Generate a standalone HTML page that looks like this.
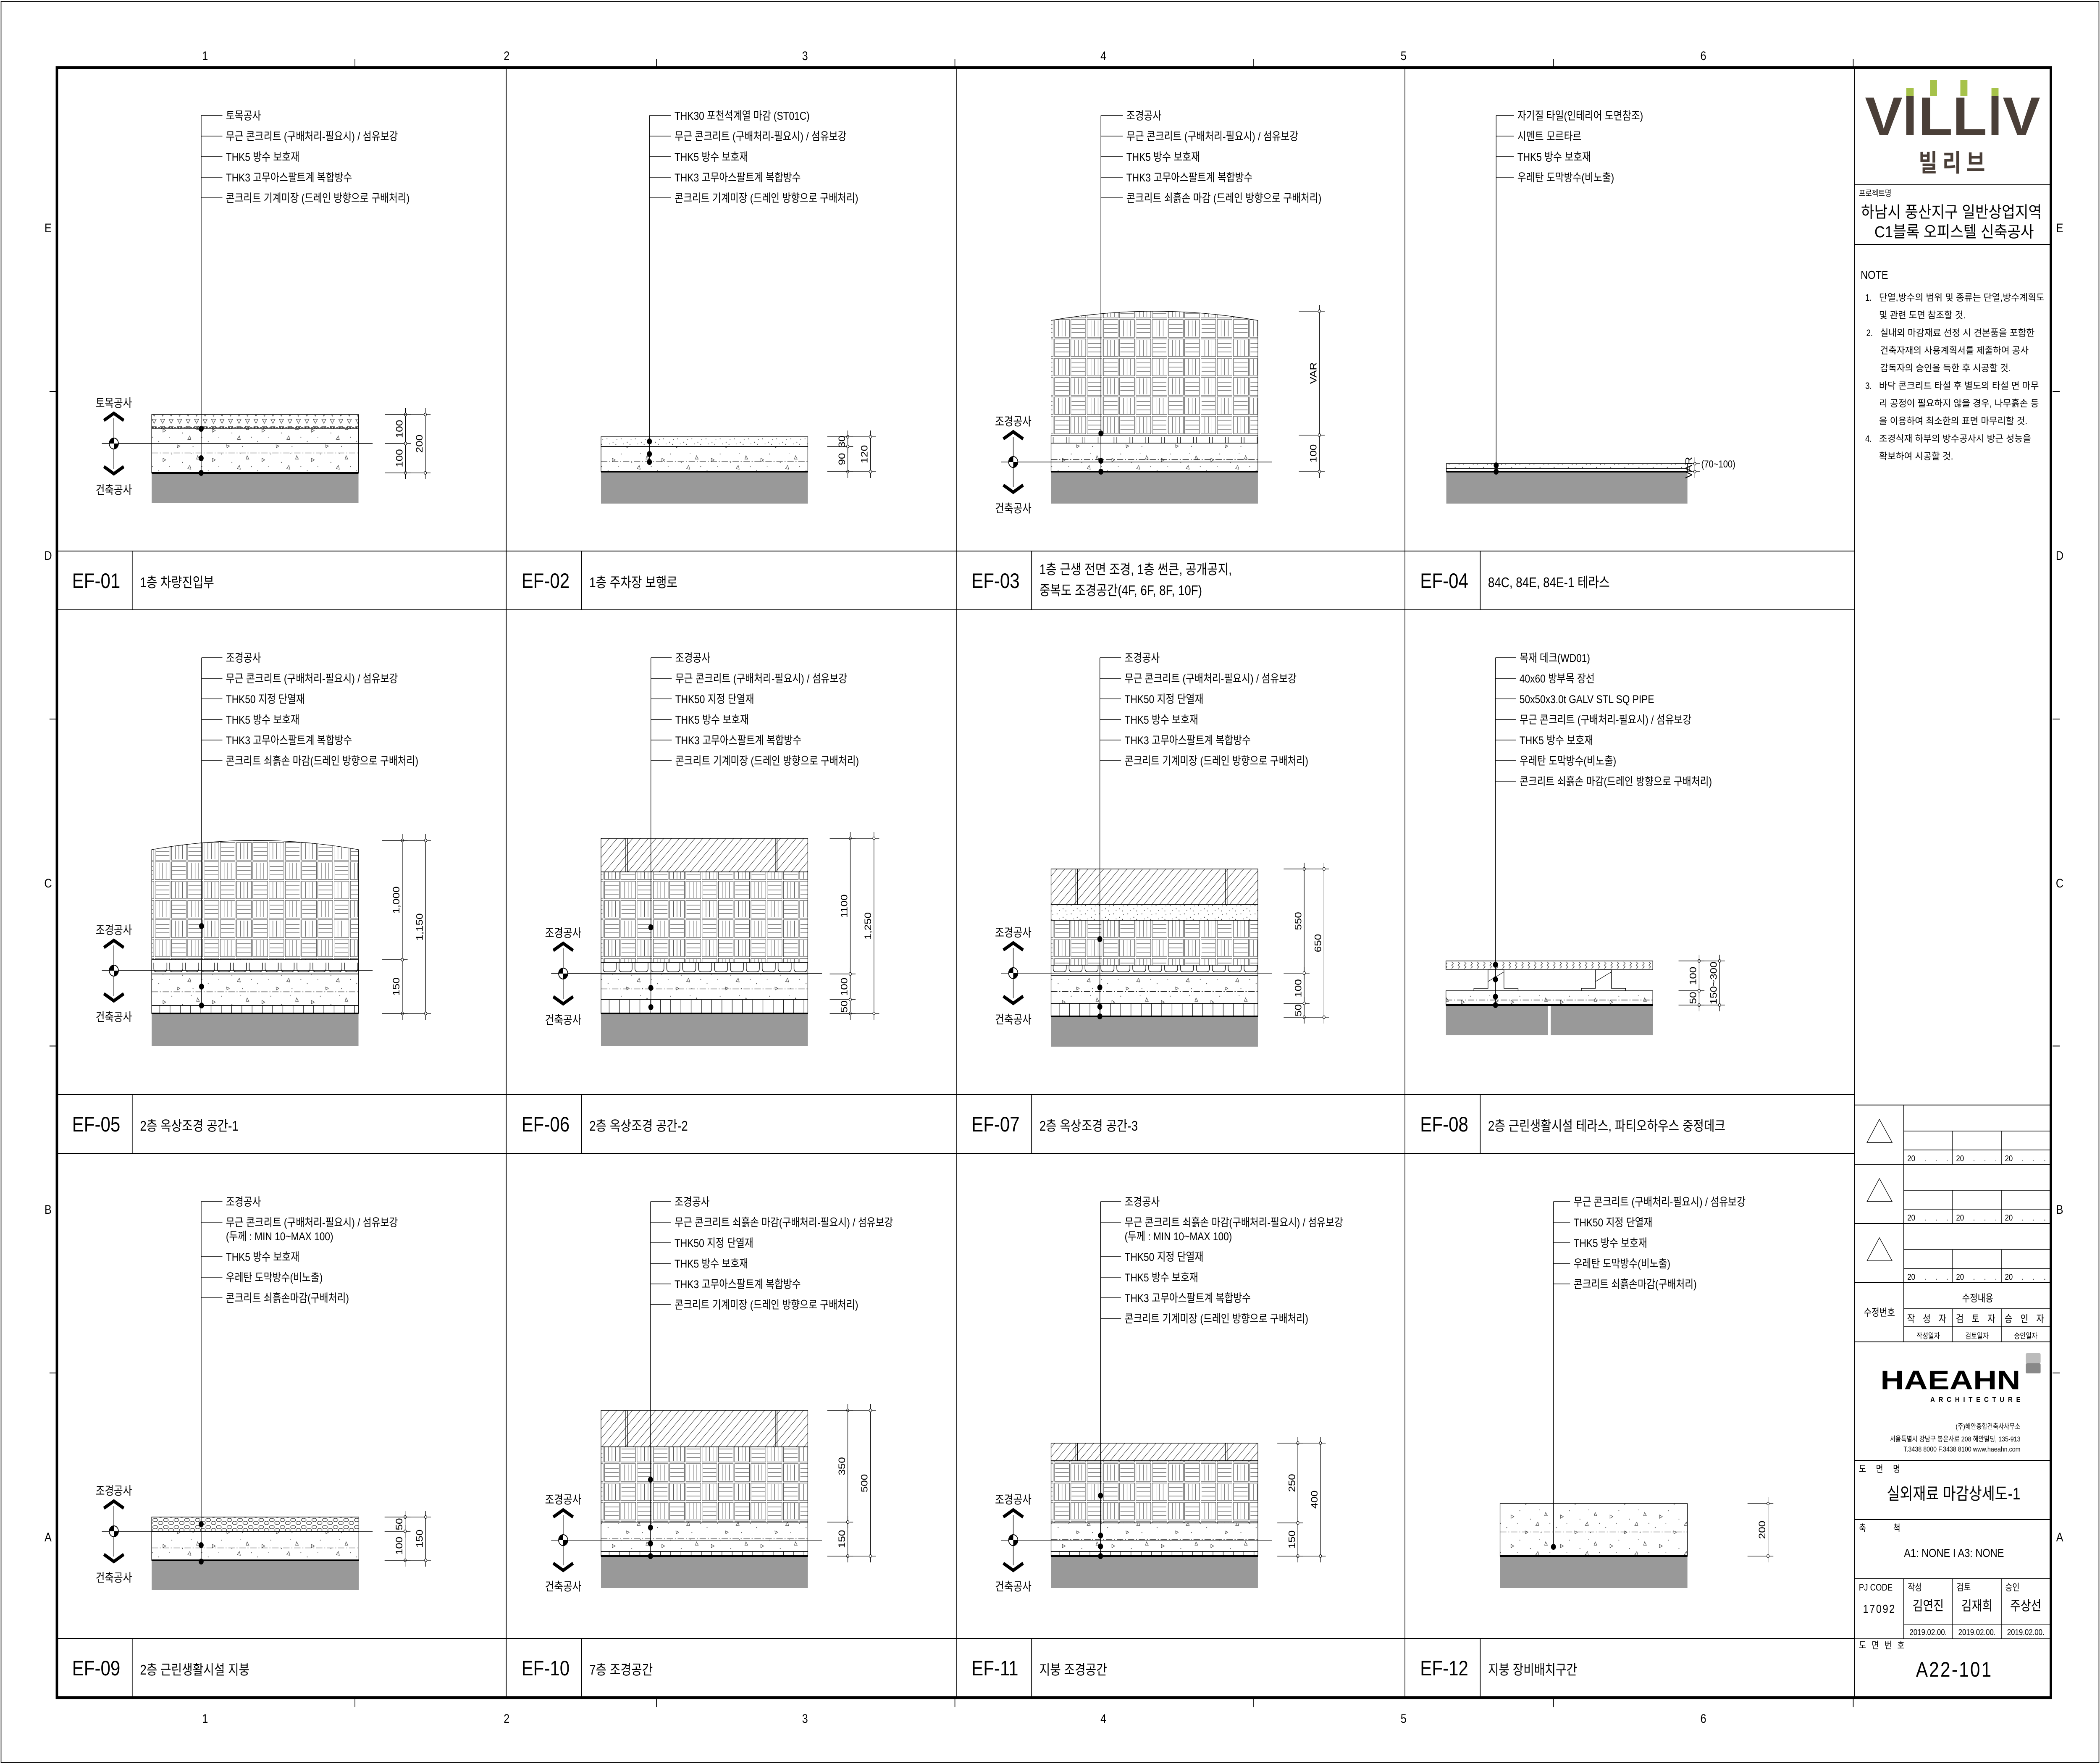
<!DOCTYPE html>
<html><head><meta charset="utf-8">
<style>
html,body{margin:0;padding:0;background:#fff;overflow:hidden;}
html,body{width:100vw;height:100vh;}
svg{display:block;width:100vw;height:100vh;}
text{font-family:"Liberation Sans","Noto Sans CJK KR",sans-serif;fill:#000;}
</style></head>
<body>
<svg id="sheet" xmlns="http://www.w3.org/2000/svg" viewBox="0 0 5940 4200" preserveAspectRatio="none">
<defs>
<pattern id="tile" patternUnits="userSpaceOnUse" width="92" height="92">
 <g stroke="#222" stroke-width="1" fill="none">
  <rect x="2" y="2" width="42" height="42"/><rect x="48" y="2" width="42" height="42"/>
  <rect x="2" y="48" width="42" height="42"/><rect x="48" y="48" width="42" height="42"/>
  <path d="M4 13H42M4 23H42M4 33H42"/><path d="M59 4V42M69 4V42M79 4V42"/>
  <path d="M13 50V88M23 50V88M33 50V88"/><path d="M50 59H88M50 69H88M50 79H88"/>
 </g>
</pattern>
<pattern id="hatch" patternUnits="userSpaceOnUse" width="22" height="22">
 <path d="M-2 24L24 -2M-2 2L2 -2M20 24L24 20" stroke="#333" stroke-width="1.1"/>
</pattern>
<pattern id="conc" patternUnits="userSpaceOnUse" width="140" height="70">
 <g fill="none" stroke="#444" stroke-width="1.2">
  <path d="M20 20l8 4l-8 4z"/><path d="M90 45l6 -8l3 9z"/><path d="M60 58l8 3l-7 4z"/><path d="M118 14l5 8l-8 0z"/>
 </g>
 <g fill="#555"><circle cx="8" cy="50" r="1.2"/><circle cx="45" cy="10" r="1.2"/><circle cx="75" cy="30" r="1.2"/><circle cx="105" cy="62" r="1.2"/><circle cx="130" cy="40" r="1.2"/><circle cx="38" cy="40" r="1"/><circle cx="100" cy="8" r="1"/></g>
</pattern>
<pattern id="sand" patternUnits="userSpaceOnUse" width="40" height="20">
 <g fill="#444"><circle cx="5" cy="4" r="1.2"/><circle cx="22" cy="12" r="1.2"/><circle cx="33" cy="5" r="1"/><circle cx="12" cy="16" r="1"/><circle cx="30" cy="17" r="1.2"/></g>
</pattern>
<pattern id="tri" patternUnits="userSpaceOnUse" width="24" height="17">
 <path d="M5 4h12l-6 10z" fill="none" stroke="#333" stroke-width="1.2"/>
</pattern>
<pattern id="gravel" patternUnits="userSpaceOnUse" width="30" height="17">
 <g fill="none" stroke="#333" stroke-width="1.3"><ellipse cx="8" cy="5" rx="7" ry="4"/><ellipse cx="23" cy="12" rx="7" ry="4"/><ellipse cx="-7" cy="12" rx="7" ry="4"/></g>
</pattern>
<pattern id="drain" patternUnits="userSpaceOnUse" width="45" height="40">
 <path d="M4 0V14Q4 22 12 22H33Q41 22 41 14V0" fill="none" stroke="#000" stroke-width="1.5"/>
</pattern>
<pattern id="grid" patternUnits="userSpaceOnUse" width="29" height="40">
 <path d="M1 0V40" stroke="#000" stroke-width="1.3"/>
</pattern>
<pattern id="deck" patternUnits="userSpaceOnUse" width="18" height="22">
 <path d="M6 2l5 4l-5 4l5 4l-5 4" fill="none" stroke="#333" stroke-width="1.2"/>
</pattern>
</defs>
<rect x="0" y="0" width="5940" height="4200" fill="#fff"/>
<rect x="3" y="3" width="5934" height="4194" fill="none" stroke="#000" stroke-width="2"/>
<g id="grid-frame"></g>
<g id="panels"></g>

<g id="title-block" stroke="#000" fill="none">
 <line x1="5246" y1="440" x2="5803" y2="440" stroke-width="2"/>
 <line x1="5246" y1="582" x2="5803" y2="582" stroke-width="2"/>
 <line x1="5246" y1="2631" x2="5803" y2="2631" stroke-width="2"/>
 <line x1="5246" y1="2772" x2="5803" y2="2772" stroke-width="2"/>
 <line x1="5246" y1="2913" x2="5803" y2="2913" stroke-width="2"/>
 <line x1="5246" y1="3054" x2="5803" y2="3054" stroke-width="2"/>
 <line x1="5246" y1="3195" x2="5803" y2="3195" stroke-width="2"/>
 <line x1="5246" y1="3477" x2="5803" y2="3477" stroke-width="2"/>
 <line x1="5246" y1="3618" x2="5803" y2="3618" stroke-width="2"/>
 <line x1="5246" y1="3759" x2="5803" y2="3759" stroke-width="2"/>
 <line x1="5246" y1="3902" x2="5803" y2="3902" stroke-width="2"/>
 <line x1="5385" y1="2631" x2="5385" y2="3195" stroke-width="2"/>
 <line x1="5385" y1="3759" x2="5385" y2="3902" stroke-width="2"/>
 <g stroke-width="1.5">
  <line x1="5385" y1="2693" x2="5803" y2="2693"/><line x1="5385" y1="2738" x2="5803" y2="2738"/>
  <line x1="5385" y1="2834" x2="5803" y2="2834"/><line x1="5385" y1="2879" x2="5803" y2="2879"/>
  <line x1="5385" y1="2975" x2="5803" y2="2975"/><line x1="5385" y1="3020" x2="5803" y2="3020"/>
  <line x1="5523" y1="2693" x2="5523" y2="2772"/><line x1="5661" y1="2693" x2="5661" y2="2772"/>
  <line x1="5523" y1="2834" x2="5523" y2="2913"/><line x1="5661" y1="2834" x2="5661" y2="2913"/>
  <line x1="5523" y1="2975" x2="5523" y2="3054"/><line x1="5661" y1="2975" x2="5661" y2="3054"/>
  <line x1="5385" y1="3116" x2="5803" y2="3116"/><line x1="5385" y1="3158" x2="5803" y2="3158"/>
  <line x1="5523" y1="3116" x2="5523" y2="3195"/><line x1="5661" y1="3116" x2="5661" y2="3195"/>
  <line x1="5385" y1="3867" x2="5803" y2="3867"/>
  <line x1="5523" y1="3759" x2="5523" y2="3902"/><line x1="5661" y1="3759" x2="5661" y2="3902"/>
  <path d="M5316 2665L5352 2720H5281Z"/>
  <path d="M5316 2806L5352 2861H5281Z"/>
  <path d="M5316 2947L5352 3002H5281Z"/>
 </g>
</g>
<g id="title-texts">
 <rect x="5392" y="229" width="21" height="93" fill="#4a3f38"/><rect x="5392" y="210" width="21" height="19" fill="#a6c24a"/>
 <rect x="5459" y="191" width="20" height="38" fill="#a6c24a"/><rect x="5545" y="191" width="20" height="38" fill="#a6c24a"/>
 <rect x="5633" y="229" width="20" height="93" fill="#4a3f38"/><rect x="5633" y="210" width="20" height="19" fill="#a6c24a"/>
 <text x="5275" y="322" font-size="130" font-weight="bold" style="fill:#4a3f38" textLength="496" lengthAdjust="spacingAndGlyphs">V<tspan style="fill:none">I</tspan>LL<tspan style="fill:none">I</tspan>V</text>
 <text x="5528" y="408" font-size="58" font-weight="bold" text-anchor="middle" style="fill:#4a3f38" letter-spacing="14">빌리브</text>
 <text x="5258" y="467" font-size="20">프로젝트명</text>
 <text x="5264" y="518" font-size="38" textLength="511" lengthAdjust="spacingAndGlyphs">하남시 풍산지구 일반상업지역</text>
 <text x="5302" y="565" font-size="38" textLength="451" lengthAdjust="spacingAndGlyphs">C1블록 오피스텔 신축공사</text>
 <text x="5263" y="664" font-size="28">NOTE</text>
 <g font-size="22">
  <text x="5276" y="716">1.</text><text x="5315" y="716" textLength="468" lengthAdjust="spacingAndGlyphs">단열,방수의 범위 및 종류는 단열,방수계획도</text>
  <text x="5315" y="758" textLength="245" lengthAdjust="spacingAndGlyphs">및 관련 도면 참조할 것.</text>
  <text x="5279" y="800">2.</text><text x="5318" y="800" textLength="437" lengthAdjust="spacingAndGlyphs">실내외 마감재료 선정 시 견본품을 포함한</text>
  <text x="5318" y="842" textLength="420" lengthAdjust="spacingAndGlyphs">건축자재의 사용계획서를 제출하여 공사</text>
  <text x="5318" y="884" textLength="370" lengthAdjust="spacingAndGlyphs">감독자의 승인을 득한 후 시공할 것.</text>
  <text x="5276" y="926">3.</text><text x="5315" y="926" textLength="452" lengthAdjust="spacingAndGlyphs">바닥 콘크리트 타설 후 별도의 타설 면 마무</text>
  <text x="5315" y="968" textLength="452" lengthAdjust="spacingAndGlyphs">리 공정이 필요하지 않을 경우, 나무흙손 등</text>
  <text x="5315" y="1010" textLength="420" lengthAdjust="spacingAndGlyphs">을 이용하여 최소한의 표면 마무리할 것.</text>
  <text x="5276" y="1052">4.</text><text x="5315" y="1052" textLength="430" lengthAdjust="spacingAndGlyphs">조경식재 하부의 방수공사시 방근 성능을</text>
  <text x="5315" y="1094" textLength="210" lengthAdjust="spacingAndGlyphs">확보하여 시공할 것.</text>
 </g>
 <g font-size="20">
  <text x="5395" y="2765">20　 .　 .　 .</text><text x="5533" y="2765">20　 .　 .　 .</text><text x="5671" y="2765">20　 .　 .　 .</text>
  <text x="5395" y="2906">20　 .　 .　 .</text><text x="5533" y="2906">20　 .　 .　 .</text><text x="5671" y="2906">20　 .　 .　 .</text>
  <text x="5395" y="3047">20　 .　 .　 .</text><text x="5533" y="3047">20　 .　 .　 .</text><text x="5671" y="3047">20　 .　 .　 .</text>
 </g>
 <text x="5594" y="3099" font-size="24" text-anchor="middle">수정내용</text>
 <text x="5316" y="3133" font-size="24" text-anchor="middle">수정번호</text>
 <text x="5454" y="3148" font-size="24" text-anchor="middle" letter-spacing="8">작 성 자</text>
 <text x="5592" y="3148" font-size="24" text-anchor="middle" letter-spacing="8">검 토 자</text>
 <text x="5730" y="3148" font-size="24" text-anchor="middle" letter-spacing="8">승 인 자</text>
 <text x="5454" y="3187" font-size="18" text-anchor="middle">작성일자</text>
 <text x="5592" y="3187" font-size="18" text-anchor="middle">검토일자</text>
 <text x="5730" y="3187" font-size="18" text-anchor="middle">승인일자</text>
 <text x="5319" y="3308" font-size="64" font-weight="bold" textLength="396" lengthAdjust="spacingAndGlyphs">HAEAHN</text>
 <text x="5460" y="3338" font-size="18" font-weight="bold" textLength="255" lengthAdjust="spacing">ARCHITECTURE</text>
 <rect x="5730" y="3222" width="42" height="24" fill="#bbb" rx="3"/><rect x="5730" y="3246" width="42" height="24" fill="#888" rx="3"/>
 <text x="5715" y="3402" font-size="17" text-anchor="end">(주)해안종합건축사사무소</text>
 <text x="5715" y="3432" font-size="17" text-anchor="end">서울특별시 강남구 봉은사로 208 해안빌딩, 135-913</text>
 <text x="5715" y="3456" font-size="17" text-anchor="end">T.3438 8000  F.3438 8100 www.haeahn.com</text>
 <text x="5258" y="3505" font-size="22" letter-spacing="28">도면명</text>
 <text x="5526" y="3570" font-size="40" text-anchor="middle">실외재료 마감상세도-1</text>
 <text x="5258" y="3646" font-size="22">축</text>
 <text x="5355" y="3646" font-size="22">척</text>
 <text x="5527" y="3707" font-size="28" text-anchor="middle">A1: NONE  I  A3: NONE</text>
 <text x="5258" y="3787" font-size="22">PJ CODE</text>
 <text x="5316" y="3840" font-size="28" text-anchor="middle" letter-spacing="3">17092</text>
 <text x="5396" y="3787" font-size="22">작성</text>
 <text x="5534" y="3787" font-size="22">검토</text>
 <text x="5672" y="3787" font-size="22">승인</text>
 <text x="5454" y="3834" font-size="32" text-anchor="middle">김연진</text>
 <text x="5592" y="3834" font-size="32" text-anchor="middle">김재희</text>
 <text x="5730" y="3834" font-size="32" text-anchor="middle">주상선</text>
 <text x="5454" y="3893" font-size="20" text-anchor="middle">2019.02.00.</text>
 <text x="5592" y="3893" font-size="20" text-anchor="middle">2019.02.00.</text>
 <text x="5730" y="3893" font-size="20" text-anchor="middle">2019.02.00.</text>
 <text x="5258" y="3925" font-size="22" letter-spacing="16">도면번호</text>
 <text x="5528" y="3992" font-size="50" text-anchor="middle" letter-spacing="4">A22-101</text>
</g>
</svg>
<script>
const panelCodes = ['EF-01','EF-02','EF-03','EF-04','EF-05','EF-06','EF-07','EF-08','EF-09','EF-10','EF-11','EF-12'];
const panelTitles = [
 ['1층 차량진입부'],['1층 주차장 보행로'],['1층 근생 전면 조경, 1층 썬큰, 공개공지,','중복도 조경공간(4F, 6F, 8F, 10F)'],['84C, 84E, 84E-1 테라스'],
 ['2층 옥상조경 공간-1'],['2층 옥상조경 공간-2'],['2층 옥상조경 공간-3'],['2층 근린생활시설 테라스, 파티오하우스 중정데크'],
 ['2층 근린생활시설 지붕'],['7층 조경공간'],['지붕 조경공간'],['지붕 장비배치구간']];
const panelLabels = [
 ['토목공사','무근 콘크리트 (구배처리-필요시) / 섬유보강','THK5 방수 보호재','THK3 고무아스팔트계 복합방수','콘크리트 기계미장 (드레인 방향으로 구배처리)'],
 ['THK30 포천석계열 마감 (ST01C)','무근 콘크리트 (구배처리-필요시) / 섬유보강','THK5 방수 보호재','THK3 고무아스팔트계 복합방수','콘크리트 기계미장 (드레인 방향으로 구배처리)'],
 ['조경공사','무근 콘크리트 (구배처리-필요시) / 섬유보강','THK5 방수 보호재','THK3 고무아스팔트계 복합방수','콘크리트 쇠흙손 마감 (드레인 방향으로 구배처리)'],
 ['자기질 타일(인테리어 도면참조)','시멘트 모르타르','THK5 방수 보호재','우레탄 도막방수(비노출)'],
 ['조경공사','무근 콘크리트 (구배처리-필요시) / 섬유보강','THK50 지정 단열재','THK5 방수 보호재','THK3 고무아스팔트계 복합방수','콘크리트 쇠흙손 마감(드레인 방향으로 구배처리)'],
 ['조경공사','무근 콘크리트 (구배처리-필요시) / 섬유보강','THK50 지정 단열재','THK5 방수 보호재','THK3 고무아스팔트계 복합방수','콘크리트 기계미장 (드레인 방향으로 구배처리)'],
 ['조경공사','무근 콘크리트 (구배처리-필요시) / 섬유보강','THK50 지정 단열재','THK5 방수 보호재','THK3 고무아스팔트계 복합방수','콘크리트 기계미장 (드레인 방향으로 구배처리)'],
 ['목재 데크(WD01)','40x60 방부목 장선','50x50x3.0t GALV STL SQ PIPE','무근 콘크리트 (구배처리-필요시) / 섬유보강','THK5 방수 보호재','우레탄 도막방수(비노출)','콘크리트 쇠흙손 마감(드레인 방향으로 구배처리)'],
 ['조경공사','무근 콘크리트 (구배처리-필요시) / 섬유보강|(두께 : MIN 10~MAX 100)','THK5 방수 보호재','우레탄 도막방수(비노출)','콘크리트 쇠흙손마감(구배처리)'],
 ['조경공사','무근 콘크리트 쇠흙손 마감(구배처리-필요시) / 섬유보강','THK50 지정 단열재','THK5 방수 보호재','THK3 고무아스팔트계 복합방수','콘크리트 기계미장 (드레인 방향으로 구배처리)'],
 ['조경공사','무근 콘크리트 쇠흙손 마감(구배처리-필요시) / 섬유보강|(두께 : MIN 10~MAX 100)','THK50 지정 단열재','THK5 방수 보호재','THK3 고무아스팔트계 복합방수','콘크리트 기계미장 (드레인 방향으로 구배처리)'],
 ['무근 콘크리트 (구배처리-필요시) / 섬유보강','THK50 지정 단열재','THK5 방수 보호재','우레탄 도막방수(비노출)','콘크리트 쇠흙손마감(구배처리)']];
const panelLayers = [
 [[826,860,'tri'],[860,965,'conc'],[965,1036,'slab']],
 [[879,902,'stone'],[902,962,'conc'],[962,1038,'slab']],
 [[580,875,'tileCurve'],[875,894,'drain'],[894,962,'conc'],[962,1038,'slab']],
 [[943,955,'stone'],[955,962,'thin'],[962,1038,'slab']],
 [[549,833,'tileCurve'],[833,867,'drain'],[867,942,'conc'],[942,961,'grid'],[961,1038,'slab']],
 [[544,624,'hatch'],[624,840,'tile'],[840,867,'drain'],[867,928,'conc'],[928,961,'grid'],[961,1038,'slab']],
 [[617,702,'hatch'],[702,739,'sand'],[739,846,'tile'],[846,870,'drain'],[870,937,'conc'],[937,968,'grid'],[968,1040,'slab']],
 [[836,857,'deck'],[857,907,'posts'],[907,941,'conc'],[941,1013,'slabSplit']],
 [[865,899,'gravel'],[899,968,'conc'],[968,1039,'slab']],
 [[611,698,'hatch'],[698,877,'tile'],[877,947,'conc'],[947,958,'grid'],[958,1034,'slab']],
 [[689,731,'hatch'],[731,879,'tile'],[879,947,'conc'],[947,958,'grid'],[958,1034,'slab']],
 [[833,958,'conc'],[958,1034,'slab']]];
const panelSpan = [[268,853],[268,853],[268,853],[117,799],[268,853],[268,853],[268,853],[116,701],[268,854],[268,853],[268,853],[269,799]];
const panelLeaderX = [408,405,409,258,409,409,406,256,408,408,408,420];
const panelTextX = [478,476,481,318,478,478,476,324,478,476,476,477];
const panelDots = [[860,930,965],[890,920,939],[871,936,962],[947,962],[753,897,942],[756,900,946],[784,899,945,968],[845,880,921,941],[882,932,971],[776,890,928,958],[814,909,935,958],[936]];
const panelRef = [895,null,939,null,859,866,865,null,899,920,920,null];
const panelUpLabel = ['토목공사',null,'조경공사',null,'조경공사','조경공사','조경공사',null,'조경공사','조경공사','조경공사',null];
const panelDims = [
 [[986,826,895,'100'],[986,895,965,'100'],[1042,826,965,'200']],
 [[966,879,902,'30'],[966,902,962,'90'],[1030,879,962,'120']],
 [[1027,580,875,'VAR'],[1027,875,962,'100']],
 [[820,943,962,'VAR']],
 [[977,549,833,'1,000'],[977,833,961,'150'],[1043,549,961,'1,150']],
 [[973,544,867,'1100'],[973,867,928,'100'],[973,928,961,'50'],[1040,544,961,'1,250']],
 [[984,617,865,'550'],[984,865,937,'100'],[984,937,970,'50'],[1040,617,970,'650']],
 [[832,836,907,'100'],[832,907,941,'50'],[890,836,941,'150~300']],
 [[985,865,899,'50'],[985,899,968,'100'],[1043,865,968,'150']],
 [[966,611,877,'350'],[966,877,958,'150'],[1030,611,958,'500']],
 [[966,689,879,'250'],[966,879,958,'150'],[1030,689,958,'400']],
 [[1027,833,958,'200']]];
const colX = [161,1432,2705,3974,5246];
const rowY = [161,1452,2747];
const bandY = [1312,2606,3901];
const colNums = ['1','2','3','4','5','6'];
const colNumX = [580,1433,2277,3121,3970,4818];
const rowLetters = ['E','D','C','B','A'];
const rowLetterY = [542,1322,2102,2879,3659];

const NS='http://www.w3.org/2000/svg';
function mk(tag, attrs, parent){const e=document.createElementNS(NS,tag);for(const k in attrs)e.setAttribute(k,attrs[k]);parent.appendChild(e);return e;}

const frame=document.getElementById('grid-frame');
const border=mk('rect',{x:161,y:161,width:5640,height:3881,fill:'none',stroke:'#000','stroke-width':7},frame);


for(let c=1;c<4;c++){const l=mk('line',{x1:colX[c],y1:161,x2:colX[c],y2:4042,stroke:'#000','stroke-width':2},frame);
 
 }
const tbl=mk('line',{x1:5246,y1:161,x2:5246,y2:4042,stroke:'#000','stroke-width':2},frame);


for(let r=0;r<3;r++){
 const a=mk('line',{x1:161,y1:bandY[r],x2:5246,y2:bandY[r],stroke:'#000','stroke-width':2},frame);
 
 
 if(r<2){const b=mk('line',{x1:161,y1:bandY[r]+140,x2:5246,y2:bandY[r]+140,stroke:'#000','stroke-width':2},frame);
  
  }
}
colNums.forEach((n,i)=>{
 [133,4092].forEach(y=>{const t=mk('text',{x:colNumX[i],y:y+10,'font-size':30,'text-anchor':'middle'},frame);t.textContent=n;
  
  });
 [[140,158],[4045,4065]].forEach(p=>{const k=mk('line',{x1:colNumX[i]+424,y1:p[0],x2:colNumX[i]+424,y2:p[1],stroke:'#000','stroke-width':2},frame);
  
  });
});
rowLetters.forEach((n,i)=>{
 [136,5826].forEach(x=>{const t=mk('text',{x:x,y:rowLetterY[i]+11,'font-size':30,'text-anchor':'middle'},frame);t.textContent=n;
  
  });
 if(i<4){const yy=(rowLetterY[i]+rowLetterY[i+1])/2;
  [[140,158],[5806,5826]].forEach(p=>{const k=mk('line',{x1:p[0],y1:yy,x2:p[1],y2:yy,stroke:'#000','stroke-width':2},frame);
   
   });}
});

const panels=document.getElementById('panels');
const FS=27;
panelCodes.forEach((code,i)=>{
 const c=i%4, r=Math.floor(i/4);
 const ox=colX[c], oy=rowY[r], by=bandY[r];
 const g=mk('g',{transform:`translate(${ox},${oy})`},panels);
 
 
 const bg=mk('g',{transform:`translate(${ox},${by})`},panels);
 
 
 mk('line',{x1:213,y1:0,x2:213,y2:140,stroke:'#000','stroke-width':2},bg);
 const ct=mk('text',{x:43,y:88,'font-size':50},bg);ct.textContent=code;
 
 
 const tl=panelTitles[i];
 tl.forEach((s,j)=>{const t=mk('text',{x:235,y:tl.length>1?(55+j*50):86,'font-size':33},bg);t.textContent=s;
  
  });

 const [x1,x2]=panelSpan[i];
 const layers=panelLayers[i];
 layers.forEach(([t,b,k])=>{
  const w=x2-x1;
  let e;
  if(k==='slab'){e=mk('rect',{x:x1,y:t,width:w,height:b-t,fill:'#999'},g);mk('line',{x1:x1,y1:t,x2:x2,y2:t,stroke:'#000','stroke-width':4},g);}
  else if(k==='slabSplit'){const mid=x1+(x2-x1)/2;
   e=mk('rect',{x:x1,y:t,width:mid-x1-4,height:b-t,fill:'#999'},g);mk('rect',{x:mid+4,y:t,width:x2-mid-4,height:b-t,fill:'#999'},g);
   mk('line',{x1:x1,y1:t,x2:x2,y2:t,stroke:'#000','stroke-width':4},g);}
  else if(k==='tileCurve'){e=mk('path',{d:`M${x1} ${t+22}Q${(x1+x2)/2} ${t-22} ${x2} ${t+22}V${b}H${x1}Z`,fill:'url(#tile)',stroke:'#000','stroke-width':1.2},g);}
  else {
   const fills={tri:'url(#tri)',conc:'url(#conc)',stone:'url(#sand)',thin:'none',grid:'url(#grid)',hatch:'url(#hatch)',sand:'url(#sand)',tile:'url(#tile)',drain:'url(#drain)',gravel:'url(#gravel)',deck:'url(#deck)',posts:'none'};
   e=mk('rect',{x:x1,y:t,width:w,height:b-t,fill:fills[k],stroke:'#000','stroke-width':1.5},g);
   if(k==='posts'){e.setAttribute('stroke','none');
    [x1+119,x1+423].forEach(px=>{mk('path',{d:`M${px-40} ${b}V${b-6}H${px}V${t}H${px+45}V${b-6}H${px+85}V${b}`,fill:'none',stroke:'#000','stroke-width':1.5},g);
     mk('line',{x1:px,y1:b-22,x2:px+45,y2:t+5,stroke:'#000','stroke-width':1.2},g);});}
   if(k==='conc'){mk('line',{x1:x1,y1:(t+b)/2+5,x2:x2,y2:(t+b)/2+5,stroke:'#000','stroke-width':1.2,'stroke-dasharray':'18 5 3 5'},g);}
   if(k==='hatch'){[70,493].forEach(jx=>{mk('path',{d:`M${x1+jx} ${t}V${b}M${x1+jx+5} ${t}V${b}`,stroke:'#000','stroke-width':1.5},g);});}
   if(k==='tri'){mk('line',{x1:x1,y1:b-3,x2:x2,y2:b-3,stroke:'#000','stroke-width':1.2,'stroke-dasharray':'6 3'},g);}
  }
  
  
 });
 const lx=panelLeaderX[i], tx=panelTextX[i];
 let y=114;
 const dots=panelDots[i];
 const leader=mk('line',{x1:lx,y1:114,x2:lx,y2:dots[dots.length-1],stroke:'#000','stroke-width':1.6},g);
 
 
 panelLabels[i].forEach(s=>{
  const parts=s.split('|');
  mk('line',{x1:lx,y1:y,x2:tx-10,y2:y,stroke:'#000','stroke-width':1.6},g);
  parts.forEach((p,j)=>{
   const t=mk('text',{x:tx,y:y+10+j*33,'font-size':FS},g);t.textContent=p;
   
   
  });
  y+=49+(parts.length-1)*33;
 });
 dots.forEach(dy=>{const d=mk('circle',{cx:lx,cy:dy,r:7,fill:'#000'},g);
  
  });
 const ref=panelRef[i];
 if(ref!==null){
  const mg=mk('g',{},g);
  
  
  mk('line',{x1:127,y1:ref,x2:893,y2:ref,stroke:'#000','stroke-width':1.5},mg);
  mk('line',{x1:161,y1:ref-60,x2:161,y2:ref+60,stroke:'#000','stroke-width':1.5},mg);
  mk('circle',{cx:161,cy:ref,r:13,fill:'#fff',stroke:'#000','stroke-width':2},mg);
  mk('path',{d:`M161 ${ref}V${ref-13}A13 13 0 0 0 148 ${ref}Z M161 ${ref}V${ref+13}A13 13 0 0 0 174 ${ref}Z`,fill:'#000'},mg);
  mk('path',{d:`M133 ${ref-55}L161 ${ref-72}L189 ${ref-55}`,fill:'none',stroke:'#000','stroke-width':8},mg);
  mk('path',{d:`M133 ${ref+55}L161 ${ref+72}L189 ${ref+55}`,fill:'none',stroke:'#000','stroke-width':8},mg);
  const u=mk('text',{x:161,y:ref-87,'font-size':28,'text-anchor':'middle'},mg);u.textContent=panelUpLabel[i];
  const d=mk('text',{x:161,y:ref+120,'font-size':28,'text-anchor':'middle'},mg);d.textContent='건축공사';
 }
 const dims=panelDims[i];
 const minX=Math.min(...dims.map(d=>d[0]));
 const dg=mk('g',{},g);
 
 
 dims.forEach(([dx,y1,y2,lab])=>{
  mk('line',{x1:dx,y1:y1-15,x2:dx,y2:y2+15,stroke:'#000','stroke-width':1.4},dg);
  [y1,y2].forEach(yy=>{mk('line',{x1:minX-58,y1:yy,x2:dx+15,y2:yy,stroke:'#000','stroke-width':1.2},dg);
   mk('circle',{cx:dx,cy:yy,r:3.5,fill:'#fff',stroke:'#000','stroke-width':1.2},dg);});
  const my=(y1+y2)/2;
  const t=mk('text',{x:dx-8,y:my,'font-size':26,'text-anchor':'middle',transform:`rotate(-90 ${dx-8} ${my})`},dg);t.textContent=lab;
  
  
 });
 if(code==='EF-04'){const t=mk('text',{x:838,y:952,'font-size':24},dg);t.textContent='(70~100)';}
});
</script>
</body></html>
